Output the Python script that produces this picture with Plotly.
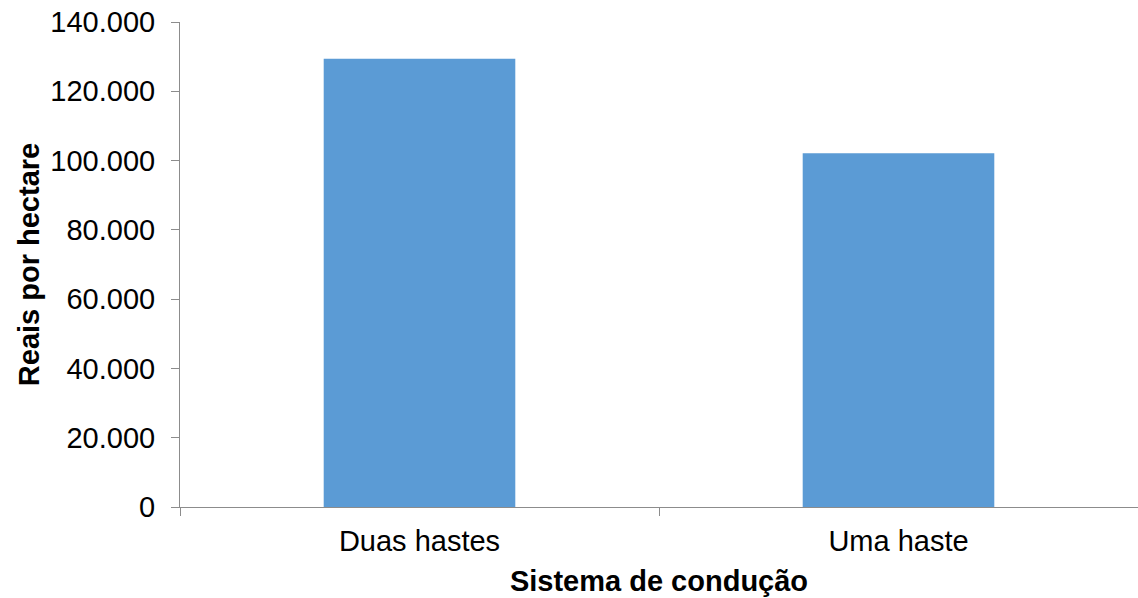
import plotly.graph_objects as go

categories = ["Duas hastes", "Uma haste"]
values = [129400, 102100]
y_ticks = [0, 20000, 40000, 60000, 80000, 100000, 120000, 140000]
y_tick_labels = ["0", "20.000", "40.000", "60.000", "80.000", "100.000", "120.000", "140.000"]

positions = list(range(len(categories)))
boundaries = [p - 0.5 for p in positions] + [positions[-1] + 0.5]

fig = go.Figure(
    go.Bar(x=positions, y=values, marker=dict(color="#5B9BD5", line=dict(width=0)), width=0.4)
)

font = "Liberation Sans, Arial, sans-serif"
fig.update_layout(
    width=1138, height=598,
    margin=dict(l=180, r=0, t=22, b=91),
    plot_bgcolor="white", paper_bgcolor="white",
    showlegend=False,
    font=dict(family=font, size=29, color="#000000"),
)
fig.update_xaxes(
    range=[-0.5, 1.5],
    showline=True, linecolor="#8c8c8c", linewidth=1,
    ticks="", tickmode="array", tickvals=positions, ticktext=categories,
    ticklabelstandoff=8,
    minor=dict(tickmode="array", tickvals=boundaries, ticks="outside", ticklen=8,
               tickcolor="#8c8c8c", showgrid=False),
    showgrid=False, zeroline=False,
    title=dict(text="<b>Sistema de condução</b>", font=dict(size=29), standoff=14),
)
fig.update_yaxes(
    range=[0, 140000],
    showline=True, linecolor="#8c8c8c", linewidth=1,
    ticks="outside", ticklen=8, tickcolor="#8c8c8c",
    ticklabelstandoff=10,
    tickmode="array", tickvals=y_ticks, ticktext=y_tick_labels,
    showgrid=False, zeroline=False,
    title=dict(text="<b>Reais por hectare</b>", font=dict(size=29), standoff=2),
)

fig.write_html("out.html")
